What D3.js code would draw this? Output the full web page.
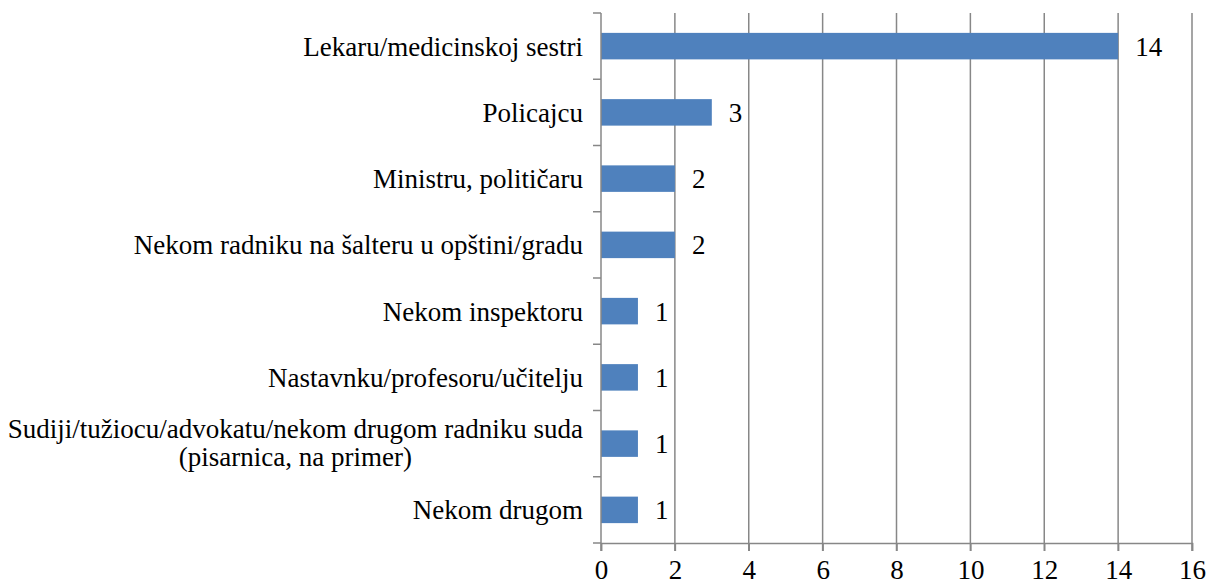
<!DOCTYPE html>
<html><head><meta charset="utf-8">
<script src="https://cdn.jsdelivr.net/npm/d3@7"></script>
</head><body style="margin:0;background:#fff"><svg id="c" width="1208" height="588" style="display:block"></svg>
<script>
const categories = ["Lekaru/medicinskoj sestri","Policajcu","Ministru, političaru","Nekom radniku na šalteru u opštini/gradu","Nekom inspektoru","Nastavnku/profesoru/učitelju","Sudiji/tužiocu/advokatu/nekom drugom radniku suda|(pisarnica, na primer)","Nekom drugom"];
const values = [14,3,2,2,1,1,1,1];
const xTicks = [0,2,4,6,8,10,12,14,16];

const FONT = '"Liberation Serif"';
const FS = "27px";
const svg = d3.select("#c");
const x = d3.scaleLinear().domain([0,16]).range([601,1192]);
const y = d3.scaleBand().domain(categories).range([13,543]).paddingInner(0.6).paddingOuter(0.3);
const grid = "#878787";

svg.append("g").selectAll("line").data(xTicks.slice(1)).join("line")
  .attr("x1",d=>x(d)).attr("x2",d=>x(d)).attr("y1",13).attr("y2",551)
  .attr("stroke",grid).attr("stroke-width",1.5);

svg.append("g").selectAll("rect").data(values).join("rect")
  .attr("x",x(0)).attr("y",(d,i)=>y(categories[i]))
  .attr("width",d=>x(d)-x(0)).attr("height",y.bandwidth())
  .attr("fill","#4F81BD");

svg.append("g").selectAll("text").data(values).join("text")
  .attr("x",d=>x(d)+17).attr("y",(d,i)=>y(categories[i])+y.bandwidth()/2)
  .attr("dy","0.35em").attr("fill","#000").style("font-family",FONT).style("font-size",FS).text(d=>d);

const xa = svg.append("g").attr("transform","translate(0,543)")
  .call(d3.axisBottom(x).tickValues(xTicks).tickSize(8).tickPadding(9));
xa.attr("font-family",null).attr("font-size",null);
xa.select(".domain").attr("stroke",grid).attr("stroke-width",1.5);
xa.selectAll(".tick line").attr("stroke",grid).attr("stroke-width",1.5);
xa.selectAll(".tick text").style("font-family",FONT).style("font-size",FS).attr("fill","#000");

const bounds = d3.range(categories.length+1).map(i=>13+i*(530/categories.length));
svg.append("line").attr("x1",x(0)).attr("x2",x(0)).attr("y1",13).attr("y2",551)
  .attr("stroke",grid).attr("stroke-width",1.5);
svg.append("g").selectAll("line").data(bounds).join("line")
  .attr("x1",593).attr("x2",x(0)).attr("y1",d=>d).attr("y2",d=>d)
  .attr("stroke",grid).attr("stroke-width",1.5);

const lab = svg.append("g");
categories.forEach((c,i)=>{
  const lines = c.split("|");
  const cy = y(c)+y.bandwidth()/2;
  if(lines.length===1){
    lab.append("text").attr("x",583).attr("y",cy).attr("dy","0.35em").attr("fill","#000")
      .attr("text-anchor","end").style("font-family",FONT).style("font-size",FS).text(c);
  } else {
    const t = lab.append("text").attr("fill","#000").style("font-family",FONT).style("font-size",FS).attr("text-anchor","middle");
    lines.forEach((l,j)=>t.append("tspan").attr("x",0).attr("y",cy+(j-(lines.length-1)/2)*28-1).attr("dy","0.35em").text(l));
    const w = t.node().getBBox().width;
    t.selectAll("tspan").attr("x",583-w/2);
  }
});
</script></body></html>
